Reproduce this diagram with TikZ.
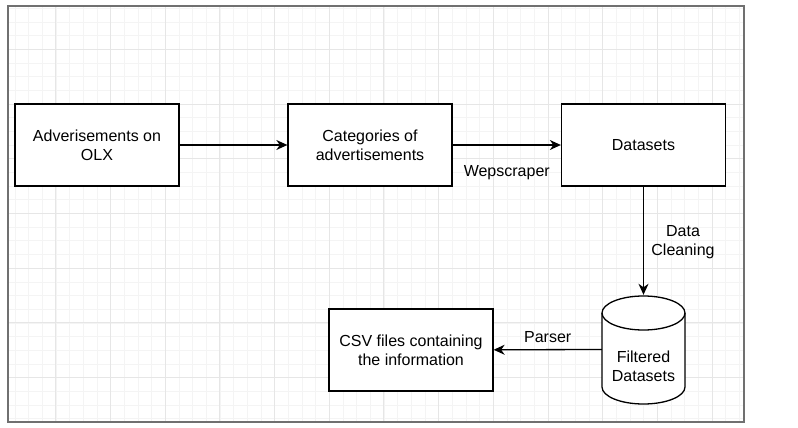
\documentclass[tikz,border=0pt]{standalone}
\usepackage{fontspec}
\setmainfont{Liberation Sans}
\usetikzlibrary{arrows.meta, positioning}
\definecolor{framegray}{RGB}{112, 112, 112}
\definecolor{gridmajor}{RGB}{230, 230, 230}
\definecolor{gridminor}{RGB}{244, 244, 244}

\begin{document}
\begin{tikzpicture}[x=1pt, y=-1pt,
    block/.style={rectangle, minimum width=164pt, minimum height=82pt, text centered, align=center, draw=black, fill=white, line width=1.3pt, inner sep=0pt, font=\fontsize{16}{19.2}\selectfont},
    lbl/.style={align=center, inner sep=0pt, font=\fontsize{16}{19.2}\selectfont},
    arrow/.style={-{Stealth[length=11pt, width=10pt, inset=3.5pt]}, line width=1.3pt}
]
\useasboundingbox (0,0) rectangle (798,428);

% Grid background
\begin{scope}
\clip (9,7) rectangle (743,421);
\foreach \k in {0,...,55} {
  \draw[gridminor, line width=0.8pt] (1.3+13.67*\k, 0) -- (1.3+13.67*\k, 428);
}
\foreach \k in {0,...,32} {
  \draw[gridminor, line width=0.8pt] (0, -5.17+13.67*\k) -- (798, -5.17+13.67*\k);
}
\foreach \k in {0,...,14} {
  \draw[gridmajor, line width=1pt] (1.3+54.67*\k, 0) -- (1.3+54.67*\k, 428);
}
\foreach \k in {0,...,8} {
  \draw[gridmajor, line width=1pt] (0, -5.17+54.67*\k) -- (798, -5.17+54.67*\k);
}
\end{scope}
\draw[framegray, line width=2.5pt] (8,6) rectangle (744,422);

% Top row
\node[block] (ads) at (97,145) {Adverisements on\\OLX};
\node[block] (categories) at (370,145) {Categories of\\advertisements};
\node[block] (datasets) at (643.5,145) {Datasets};

% Filtered datasets (cylinder)
\node[minimum width=83pt, minimum height=109pt, inner sep=0pt] (filtered) at (643.5,349.5) {};
\draw[fill=white, line width=1.3pt] (602,313) -- (602,387)
  arc[start angle=180, end angle=360, x radius=41.5pt, y radius=17pt] -- (685,313)
  arc[start angle=0, end angle=180, x radius=41.5pt, y radius=17pt] -- cycle;
\draw[line width=1.3pt] (602,313) arc[start angle=180, end angle=360, x radius=41.5pt, y radius=17pt];
\node[lbl] (filteredtext) at (643.5,366) {Filtered\\Datasets};

% Output
\node[block] (csv) at (411,350) {CSV files containing\\the information};

% Arrows
\draw[arrow] (ads) -- (categories);
\draw[arrow] (categories) -- node[lbl, yshift=-28pt] {Wepscraper} (datasets);
\draw[arrow] (datasets) -- node[lbl, xshift=39.5pt, yshift=-1.5pt] {Data\\Cleaning} (filtered.north);
\draw[arrow] (filtered.west) -- node[lbl, yshift=13pt] {Parser} (csv);
\end{tikzpicture}
\end{document}
